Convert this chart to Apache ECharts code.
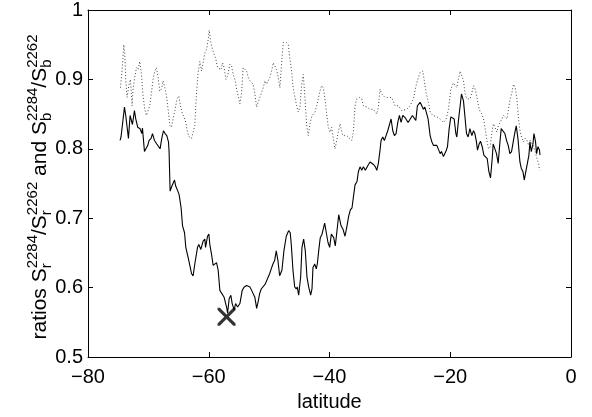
<!DOCTYPE html>
<html>
<head>
<meta charset="utf-8">
<script src="https://cdn.jsdelivr.net/npm/echarts@6/dist/echarts.min.js"></script>
<style>
  html, body { margin: 0; padding: 0; background: #fff; }
  #chart { width: 592px; height: 417px; }
</style>
</head>
<body>
<div id="chart"></div>
<script>
// Ratio S_r^2284 / S_r^2262 against latitude (solid line): [latitude, ratio]
const ratioR = [
  [-74.69,0.812],[-74.53,0.817],[-73.96,0.860],[-73.75,0.848],[-73.30,0.815],[-73.03,0.848],[-72.87,0.850],[-72.64,0.835],
  [-72.31,0.855],[-72.09,0.843],[-71.76,0.831],[-71.38,0.829],[-71.09,0.822],[-70.98,0.830],[-70.65,0.796],[-70.43,0.796],
  [-70.10,0.805],[-69.88,0.812],[-69.55,0.815],[-69.32,0.822],[-68.99,0.812],[-68.61,0.807],[-68.33,0.809],[-68.06,0.800],
  [-67.78,0.815],[-67.50,0.826],[-67.23,0.822],[-66.95,0.819],[-66.67,0.810],[-66.57,0.796],[-66.40,0.739],[-66.12,0.746],
  [-65.67,0.755],[-65.46,0.746],[-65.12,0.739],[-64.91,0.734],[-64.58,0.715],[-64.34,0.689],[-64.01,0.679],[-63.80,0.658],
  [-63.30,0.639],[-62.85,0.620],[-62.59,0.617],[-62.31,0.634],[-61.86,0.658],[-61.64,0.662],[-61.31,0.655],[-60.93,0.667],
  [-60.65,0.670],[-60.53,0.658],[-60.20,0.674],[-59.98,0.677],[-59.82,0.662],[-59.54,0.648],[-59.27,0.632],[-58.99,0.634],
  [-58.71,0.636],[-58.44,0.625],[-58.16,0.596],[-57.88,0.594],[-57.45,0.586],[-57.05,0.572],[-56.88,0.563],[-56.62,0.584],
  [-56.34,0.589],[-56.12,0.577],[-55.79,0.568],[-55.56,0.577],[-55.22,0.572],[-54.84,0.577],[-54.46,0.596],[-54.13,0.601],
  [-53.73,0.603],[-53.47,0.605],[-53.18,0.601],[-52.90,0.596],[-52.64,0.594],[-52.36,0.586],[-52.07,0.570],[-51.81,0.580],
  [-51.58,0.591],[-51.31,0.598],[-51.03,0.596],[-50.65,0.605],[-50.32,0.603],[-49.92,0.620],[-49.65,0.627],[-49.37,0.634],
  [-49.09,0.639],[-48.82,0.653],[-48.54,0.639],[-48.26,0.617],[-47.88,0.625],[-47.55,0.653],[-47.16,0.674],[-46.77,0.682],
  [-46.50,0.679],[-46.33,0.662],[-46.05,0.625],[-45.77,0.601],[-45.51,0.598],[-45.34,0.601],[-45.11,0.589],[-44.78,0.615],
  [-44.56,0.658],[-44.28,0.670],[-44.01,0.653],[-43.73,0.615],[-43.45,0.601],[-43.12,0.589],[-42.90,0.598],[-42.74,0.629],
  [-42.45,0.634],[-42.19,0.627],[-42.02,0.634],[-41.79,0.653],[-41.53,0.672],[-41.24,0.677],[-40.80,0.693],[-40.53,0.679],
  [-40.25,0.665],[-39.97,0.658],[-39.70,0.677],[-39.30,0.672],[-39.04,0.660],[-38.76,0.682],[-38.47,0.705],[-38.09,0.689],
  [-37.76,0.684],[-37.43,0.674],[-37.10,0.689],[-36.82,0.703],[-36.55,0.712],[-36.27,0.715],[-35.99,0.734],[-35.77,0.748],
  [-35.44,0.753],[-35.22,0.767],[-34.94,0.774],[-34.66,0.769],[-34.39,0.774],[-34.06,0.769],[-33.83,0.767],[-33.57,0.777],
  [-33.28,0.781],[-32.95,0.779],[-32.67,0.777],[-32.40,0.774],[-32.17,0.769],[-31.91,0.779],[-31.63,0.798],[-31.46,0.812],
  [-31.18,0.817],[-30.91,0.812],[-30.63,0.819],[-30.35,0.826],[-30.08,0.824],[-29.80,0.843],[-29.52,0.826],[-29.25,0.819],
  [-28.97,0.822],[-28.69,0.838],[-28.42,0.848],[-28.14,0.838],[-27.86,0.848],[-27.48,0.845],[-26.98,0.838],[-26.65,0.836],
  [-26.27,0.848],[-25.99,0.846],[-25.70,0.841],[-25.44,0.862],[-24.99,0.867],[-24.78,0.869],[-24.44,0.857],[-24.21,0.860],
  [-23.88,0.850],[-23.67,0.843],[-23.33,0.819],[-23.05,0.810],[-22.79,0.805],[-22.55,0.803],[-22.22,0.805],[-22.01,0.803],
  [-21.67,0.793],[-21.46,0.796],[-21.13,0.789],[-20.73,0.796],[-20.46,0.803],[-20.18,0.829],[-19.90,0.846],[-19.64,0.848],
  [-19.35,0.843],[-19.07,0.822],[-18.91,0.817],[-18.64,0.841],[-18.36,0.862],[-18.14,0.879],[-17.81,0.869],[-17.53,0.843],
  [-17.31,0.822],[-17.03,0.817],[-16.75,0.829],[-16.58,0.831],[-16.42,0.819],[-16.15,0.826],[-15.92,0.822],[-15.66,0.810],
  [-15.49,0.798],[-15.21,0.807],[-14.99,0.811],[-14.71,0.803],[-14.43,0.791],[-14.16,0.791],[-13.88,0.786],[-13.60,0.767],
  [-13.33,0.758],[-13.05,0.786],[-12.89,0.807],[-12.60,0.807],[-12.34,0.793],[-12.06,0.779],[-11.77,0.810],[-11.56,0.829],
  [-11.23,0.831],[-10.95,0.822],[-10.68,0.812],[-10.40,0.805],[-10.12,0.793],[-9.85,0.796],[-9.57,0.810],[-9.29,0.824],
  [-9.07,0.833],[-8.79,0.815],[-8.46,0.781],[-8.24,0.772],[-7.96,0.767],[-7.74,0.755],[-7.53,0.765],[-7.25,0.763],
  [-6.97,0.791],[-6.80,0.810],[-6.58,0.796],[-6.30,0.807],[-6.14,0.822],[-5.87,0.810],[-5.70,0.793],[-5.47,0.803],
  [-5.21,0.798],[-5.14,0.791]
];

// Ratio S_b^2284 / S_b^2262 against latitude (dotted line): [latitude, ratio]
const ratioB = [
  [-74.63,0.888],[-74.30,0.919],[-74.08,0.950],[-73.91,0.938],[-73.75,0.900],[-73.53,0.874],[-73.20,0.893],[-72.97,0.900],
  [-72.70,0.862],[-72.54,0.886],[-72.26,0.903],[-71.97,0.917],[-71.71,0.914],[-71.43,0.926],[-71.14,0.907],[-70.88,0.876],
  [-70.60,0.857],[-70.32,0.848],[-70.05,0.848],[-69.77,0.862],[-69.49,0.881],[-69.22,0.900],[-68.94,0.912],[-68.66,0.917],
  [-68.39,0.903],[-68.11,0.883],[-67.83,0.886],[-67.56,0.898],[-67.28,0.888],[-67.00,0.876],[-66.73,0.857],[-66.45,0.834],
  [-66.17,0.831],[-65.90,0.843],[-65.62,0.855],[-65.24,0.872],[-64.96,0.876],[-64.68,0.862],[-64.35,0.850],[-64.08,0.846],
  [-63.80,0.838],[-63.52,0.824],[-63.25,0.817],[-62.85,0.815],[-62.59,0.824],[-62.31,0.834],[-62.02,0.881],[-61.76,0.910],
  [-61.48,0.926],[-61.19,0.912],[-60.93,0.924],[-60.65,0.938],[-60.36,0.943],[-60.10,0.957],[-59.93,0.971],[-59.65,0.953],
  [-59.37,0.943],[-59.10,0.943],[-58.82,0.929],[-58.54,0.917],[-58.28,0.919],[-57.99,0.914],[-57.71,0.924],[-57.45,0.917],
  [-57.16,0.900],[-56.88,0.905],[-56.50,0.922],[-56.22,0.919],[-55.95,0.907],[-55.67,0.900],[-55.39,0.886],[-55.12,0.876],
  [-54.84,0.865],[-54.56,0.881],[-54.30,0.917],[-54.01,0.919],[-53.73,0.912],[-53.47,0.903],[-53.18,0.898],[-52.90,0.900],
  [-52.64,0.893],[-52.36,0.879],[-52.07,0.860],[-51.81,0.867],[-51.53,0.874],[-51.24,0.872],[-50.98,0.888],[-50.70,0.898],
  [-50.41,0.893],[-50.15,0.891],[-49.87,0.903],[-49.59,0.912],[-49.32,0.924],[-49.04,0.919],[-48.76,0.914],[-48.49,0.903],
  [-48.21,0.888],[-47.93,0.924],[-47.66,0.953],[-47.38,0.955],[-47.10,0.953],[-46.83,0.950],[-46.55,0.929],[-46.27,0.912],
  [-46.00,0.886],[-45.72,0.874],[-45.44,0.862],[-45.17,0.853],[-44.89,0.860],[-44.61,0.893],[-44.34,0.907],[-44.06,0.872],
  [-43.78,0.834],[-43.52,0.819],[-43.23,0.836],[-42.95,0.846],[-42.69,0.850],[-42.40,0.853],[-42.12,0.862],[-41.86,0.872],
  [-41.58,0.883],[-41.29,0.891],[-41.03,0.888],[-40.75,0.872],[-40.46,0.850],[-40.20,0.831],[-39.92,0.824],[-39.64,0.831],
  [-39.37,0.815],[-39.09,0.800],[-38.81,0.812],[-38.54,0.824],[-38.26,0.836],[-37.81,0.819],[-37.15,0.819],[-36.88,0.817],
  [-36.32,0.812],[-36.05,0.824],[-35.77,0.862],[-35.49,0.872],[-35.06,0.874],[-34.66,0.872],[-34.39,0.862],[-33.83,0.860],
  [-33.28,0.857],[-32.74,0.857],[-32.17,0.850],[-31.91,0.860],[-31.63,0.886],[-31.34,0.879],[-30.80,0.874],[-30.25,0.874],
  [-29.69,0.874],[-29.14,0.862],[-28.59,0.862],[-28.03,0.855],[-27.20,0.857],[-26.65,0.862],[-26.10,0.872],[-25.66,0.891],
  [-25.27,0.903],[-24.99,0.910],[-24.54,0.912],[-24.33,0.900],[-24.00,0.881],[-23.62,0.867],[-23.33,0.853],[-22.89,0.848],
  [-22.22,0.846],[-21.67,0.843],[-21.13,0.838],[-20.68,0.843],[-20.30,0.857],[-19.90,0.886],[-19.47,0.895],[-19.19,0.893],
  [-18.91,0.888],[-18.64,0.900],[-18.36,0.912],[-18.08,0.910],[-17.81,0.898],[-17.53,0.879],[-17.25,0.872],[-16.98,0.872],
  [-16.70,0.872],[-16.42,0.881],[-16.15,0.891],[-15.87,0.886],[-15.59,0.874],[-15.32,0.862],[-15.04,0.853],[-14.76,0.850],
  [-14.49,0.843],[-14.21,0.829],[-13.93,0.812],[-13.67,0.800],[-13.38,0.803],[-13.10,0.824],[-12.84,0.836],[-12.55,0.838],
  [-12.27,0.824],[-12.01,0.834],[-11.72,0.836],[-11.44,0.843],[-11.18,0.848],[-10.90,0.850],[-10.61,0.843],[-10.35,0.857],
  [-10.07,0.872],[-9.78,0.881],[-9.52,0.893],[-9.24,0.888],[-8.96,0.872],[-8.69,0.843],[-8.41,0.824],[-8.13,0.815],
  [-7.86,0.810],[-7.58,0.815],[-7.30,0.812],[-7.03,0.805],[-6.75,0.812],[-6.47,0.810],[-6.20,0.803],[-5.92,0.796],
  [-5.64,0.786],[-5.37,0.779],[-5.21,0.769]
];

// Marked minimum of the solid curve: [latitude, ratio]
const minMarker = [[-57.05, 0.558]];

// Axis ranges and tick steps
const latRange = [-80, 0];
const latStep = 20;
const ratioRange = [0.5, 1];
const ratioStep = 0.1;

const FONT = '"Liberation Sans", Arial, Helvetica, sans-serif';
const FS = 20;

const chart = echarts.init(document.getElementById('chart'), null, { renderer: 'canvas' });

const axisLine = { show: true, onZero: false, lineStyle: { color: '#000', width: 1 } };
const axisTick = { show: true, inside: true, length: 5, lineStyle: { color: '#000', width: 1 } };

// Stacked super/subscript axis title, laid out piece by piece
function buildYTitle() {
  const ctx = document.createElement('canvas').getContext('2d');
  const mainSize = 21, scriptSize = 15;
  const measure = (t, s) => { ctx.font = s + 'px ' + FONT; return ctx.measureText(t).width; };
  const pieces = [
    { t: 'ratios S' },
    { sup: '2284', sub: 'r' },
    { t: '/S' },
    { sup: '2262', sub: 'r' },
    { t: ' and S' },
    { sup: '2284', sub: 'b' },
    { t: '/S' },
    { sup: '2262', sub: 'b' }
  ];
  const items = [];
  let pos = 0;
  const mainY = -0.31 * mainSize;
  const supY = -9.5 - 0.31 * scriptSize;
  const subY = 5 - 0.31 * scriptSize;
  pieces.forEach(p => {
    if (p.t) {
      items.push({ text: p.t, x: pos, y: mainY, size: mainSize });
      pos += measure(p.t, mainSize);
    } else {
      items.push({ text: p.sup, x: pos, y: supY, size: scriptSize });
      items.push({ text: p.sub, x: pos, y: subY, size: scriptSize });
      pos += Math.max(measure(p.sup, scriptSize), measure(p.sub, scriptSize));
    }
  });
  const total = pos;
  return {
    type: 'group',
    x: 47,
    y: 187,
    rotation: Math.PI / 2,
    silent: true,
    children: items.map(it => ({
      type: 'text',
      x: it.x - total / 2,
      y: it.y,
      style: {
        text: it.text,
        fontSize: it.size,
        fontFamily: FONT,
        fill: '#000',
        align: 'left',
        verticalAlign: 'middle'
      }
    }))
  };
}

const option = {
  animation: false,
  backgroundColor: '#fff',
  grid: { left: 88, right: 21, top: 10, bottom: 56, containLabel: false },
  xAxis: [
    {
      type: 'value', min: latRange[0], max: latRange[1], interval: latStep, position: 'bottom',
      axisLine, axisTick,
      splitLine: { show: false },
      axisLabel: {
        color: '#000', fontSize: FS, fontFamily: FONT, margin: 10,
        formatter: v => String(v).replace('-', '\u2212')
      },
      name: 'latitude', nameLocation: 'middle', nameGap: 35,
      nameTextStyle: { color: '#000', fontSize: FS, fontFamily: FONT }
    },
    {
      type: 'value', min: latRange[0], max: latRange[1], interval: latStep, position: 'top',
      axisLine, axisTick, splitLine: { show: false }, axisLabel: { show: false }
    }
  ],
  yAxis: [
    {
      type: 'value', min: ratioRange[0], max: ratioRange[1], interval: ratioStep, position: 'left',
      axisLine, axisTick, splitLine: { show: false },
      axisLabel: {
        color: '#000', fontSize: FS, fontFamily: FONT, margin: 5,
        formatter: v => String(+v.toFixed(1))
      }
    },
    {
      type: 'value', min: ratioRange[0], max: ratioRange[1], interval: ratioStep, position: 'right',
      axisLine, axisTick, splitLine: { show: false }, axisLabel: { show: false }
    }
  ],
  series: [
    {
      name: 'b ratio', type: 'line', data: ratioB, showSymbol: false, symbol: 'none',
      lineStyle: { color: '#444', width: 1, type: [1, 2.2] }, z: 2
    },
    {
      name: 'r ratio', type: 'line', data: ratioR, showSymbol: false, symbol: 'none',
      lineStyle: { color: '#000', width: 1.1 }, z: 3
    },
    {
      name: 'minimum', type: 'scatter', data: minMarker,
      symbol: 'path://M0,0 L2.5,0 L10,7.5 L17.5,0 L20,0 L20,2.5 L12.5,10 L20,17.5 L20,20 L17.5,20 L10,12.5 L2.5,20 L0,20 L0,17.5 L7.5,10 L0,2.5 Z',
      symbolSize: 18, itemStyle: { color: '#000' }, z: 4
    }
  ],
  graphic: [buildYTitle()]
};

chart.setOption(option);
</script>
</body>
</html>
